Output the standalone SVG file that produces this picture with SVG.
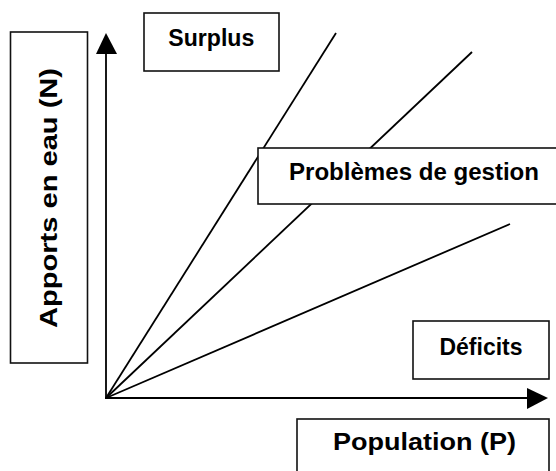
<svg xmlns="http://www.w3.org/2000/svg" width="556" height="471" viewBox="0 0 556 471">
<style>
.box{fill:#fff;stroke:#111;stroke-width:1.6}
.lbl{font-family:"Liberation Sans",Arial,sans-serif;font-weight:bold;font-size:23px;fill:#000;text-anchor:middle}
.ln{stroke:#000;stroke-width:1.8;fill:none}
</style>
<rect width="556" height="471" fill="#fff"/>
<g id="connectors">
<line class="ln" x1="106" y1="398" x2="106" y2="50" stroke-width="2"/>
<polygon points="106,33 96,54 117,54" fill="#000"/>
<line class="ln" x1="105" y1="398" x2="532" y2="398" stroke-width="2"/>
<polygon points="548,398 527,388 527,409" fill="#000"/>
<line class="ln" x1="106" y1="398" x2="336" y2="33"/>
<line class="ln" x1="106" y1="398" x2="472" y2="52"/>
<line class="ln" x1="106" y1="398" x2="510" y2="224"/>
</g>
<g id="node-apports">
<rect class="box" x="10.5" y="32" width="77" height="331"/>
<text class="lbl" transform="translate(57,198) rotate(-90)" x="0" y="0" font-size="25" textLength="260" lengthAdjust="spacingAndGlyphs">Apports en eau (N)</text>
</g>
<g id="node-surplus">
<rect class="box" x="144" y="13" width="135" height="58"/>
<text class="lbl" x="211.3" y="46" textLength="86" lengthAdjust="spacingAndGlyphs">Surplus</text>
</g>
<g id="node-gestion">
<rect class="box" x="258" y="148" width="310" height="56"/>
<text class="lbl" x="414" y="179.5" textLength="250" lengthAdjust="spacingAndGlyphs">Problèmes de gestion</text>
</g>
<g id="node-deficits">
<rect class="box" x="413" y="321" width="136" height="58"/>
<text class="lbl" x="481" y="354.5" textLength="83" lengthAdjust="spacingAndGlyphs">Déficits</text>
</g>
<g id="node-population">
<rect class="box" x="297" y="419" width="252" height="70"/>
<text class="lbl" x="424.5" y="450" textLength="183" lengthAdjust="spacingAndGlyphs">Population (P)</text>
</g>
</svg>
